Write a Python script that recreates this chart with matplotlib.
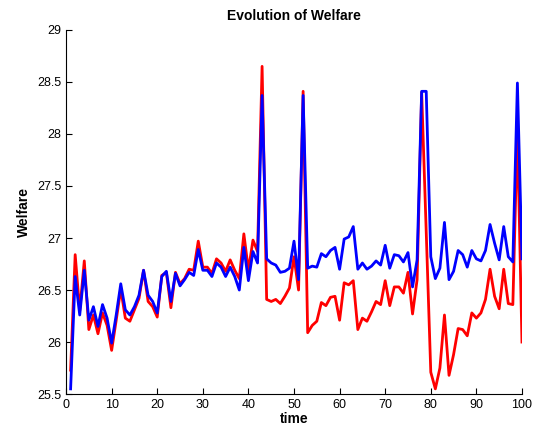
import matplotlib
matplotlib.use('Agg')
import matplotlib.pyplot as plt
from matplotlib.ticker import FormatStrFormatter
import numpy as np

# time steps 1..100
time = np.arange(1, 101)

welfare_red = [
    25.73, 26.84, 26.30, 26.78, 26.12, 26.26, 26.08, 26.28, 26.16, 25.92,
    26.21, 26.51, 26.23, 26.20, 26.31, 26.42, 26.69, 26.39, 26.34, 26.24,
    26.64, 26.67, 26.33, 26.67, 26.56, 26.61, 26.70, 26.69, 26.97, 26.72,
    26.72, 26.66, 26.80, 26.76, 26.68, 26.79, 26.69, 26.61, 27.04, 26.69,
    26.98, 26.87, 28.65, 26.41, 26.39, 26.41, 26.37, 26.44, 26.52, 26.82,
    26.50, 28.41, 26.09, 26.16, 26.20, 26.38, 26.35, 26.43, 26.44, 26.21,
    26.57, 26.55, 26.59, 26.12, 26.23, 26.20, 26.29, 26.39, 26.36, 26.59,
    26.35, 26.53, 26.53, 26.47, 26.67, 26.27, 26.60, 28.40, 27.06, 25.71,
    25.55, 25.75, 26.26, 25.68, 25.88, 26.13, 26.12, 26.06, 26.28, 26.23,
    26.28, 26.41, 26.70, 26.44, 26.32, 26.70, 26.37, 26.36, 28.05, 26.00,
]

welfare_blue = [
    25.55, 26.63, 26.26, 26.69, 26.21, 26.34, 26.15, 26.36, 26.23, 25.99,
    26.26, 26.56, 26.31, 26.26, 26.34, 26.45, 26.69, 26.45, 26.39, 26.28,
    26.63, 26.68, 26.39, 26.66, 26.54, 26.60, 26.67, 26.64, 26.89, 26.69,
    26.69, 26.63, 26.76, 26.72, 26.63, 26.72, 26.63, 26.50, 26.91, 26.59,
    26.87, 26.76, 28.37, 26.80, 26.76, 26.74, 26.67, 26.68, 26.71, 26.97,
    26.60, 28.37, 26.71, 26.73, 26.72, 26.85, 26.82, 26.88, 26.91, 26.70,
    26.99, 27.01, 27.11, 26.70, 26.76, 26.70, 26.73, 26.78, 26.74, 26.93,
    26.71, 26.84, 26.83, 26.77, 26.86, 26.53, 26.79, 28.41, 28.41, 26.82,
    26.61, 26.71, 27.15, 26.60, 26.68, 26.88, 26.84, 26.72, 26.88, 26.80,
    26.78, 26.88, 27.13, 26.95, 26.79, 27.11, 26.82, 26.77, 28.49, 26.80,
]

plt.rcParams['font.family'] = ['Liberation Sans', 'DejaVu Sans']

fig = plt.figure(figsize=(5.37, 4.34), dpi=100)
ax = fig.add_axes([0.123, 0.092, 0.849, 0.839])

ax.plot(time, welfare_red, color='#ff0000', linewidth=2)
ax.plot(time, welfare_blue, color='#0000ff', linewidth=2)

ax.set_xlim(0, 100)
ax.set_ylim(25.5, 29)
ax.set_xticks(np.arange(0, 101, 10))
ax.set_yticks(np.arange(25.5, 29.01, 0.5))
ax.yaxis.set_major_formatter(FormatStrFormatter('%g'))

ax.spines['top'].set_visible(False)
ax.spines['right'].set_visible(False)
ax.tick_params(direction='in', length=4, labelsize=9)

ax.set_title('Evolution of Welfare', fontsize=10, fontweight='bold', pad=7)
ax.set_xlabel('time', fontsize=10, fontweight='bold', labelpad=1)
ax.set_ylabel('Welfare', fontsize=10, fontweight='bold')

fig.savefig('out.png', dpi=100)
